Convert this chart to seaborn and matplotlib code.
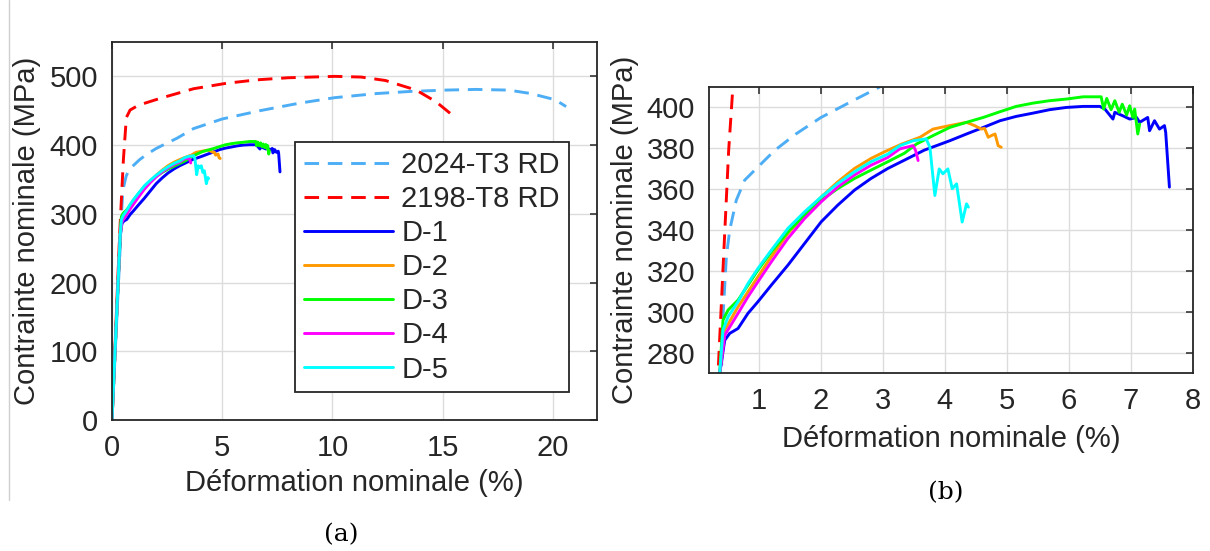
import numpy as np
import pandas as pd
import matplotlib
matplotlib.use("Agg")
import matplotlib.pyplot as plt
from matplotlib.lines import Line2D
import seaborn as sns

# ---------------- data ----------------
series_names = ["2024-T3 RD", "2198-T8 RD", "D-1", "D-2", "D-3", "D-4", "D-5"]

x_2024 = [0, 0.40, 0.43, 0.48, 0.534, 0.64, 0.775, 0.99, 1.26, 1.6, 2.0, 2.5, 2.95, 3.7, 5.0,
          6.7, 8.5, 10.1, 12.0, 13.5, 15.1, 16.5, 18.0, 19.0, 20.1, 20.6]
y_2024 = [0, 270, 300, 327, 340, 354.6, 364.4, 370.9, 379, 387, 395, 403, 410, 424, 438,
          450, 461, 469, 475, 478, 480, 481, 480, 475, 466, 456]

x_2198 = [0, 0.346, 0.44, 0.517, 0.585, 0.65, 0.82, 1.2, 2.18, 3.7, 5.2, 6.6, 8.0, 10.1,
          11.3, 12.4, 13.8, 14.7, 15.5]
y_2198 = [0, 270, 330, 379, 410, 440, 451, 458, 468, 482, 490, 495, 498, 500,
          499, 494, 480, 463, 442]

x_d1 = [0, 0.373, 0.453, 0.534, 0.668, 0.828, 0.989, 1.204, 1.472, 1.74, 2.008, 2.276, 2.544,
        2.81, 3.08, 3.35, 3.67, 4.08, 4.35, 4.62, 4.89, 5.15, 5.42, 5.69, 5.96, 6.23, 6.5,
        6.58, 6.71, 6.74, 6.87, 6.98, 7.09, 7.14, 7.27, 7.3, 7.38, 7.46, 7.54, 7.56, 7.62]
y_d1 = [0, 269.8, 286, 289.4, 291.8, 299.2, 304.9, 313, 322.8, 333.4, 344, 352.2, 359.5,
        365.2, 370.1, 374.2, 379.1, 383.7, 387, 390.2, 393.5, 395.6, 397.2, 398.9, 400, 400.5, 400.5,
        399.2, 394.3, 397.6, 395.9, 394.3, 395.1, 392.7, 395.1, 388.6, 393.5, 389.4, 391.1, 387.8, 361]

x_d2 = [0, 0.373, 0.453, 0.668, 0.989, 1.204, 1.472, 1.74, 2.008, 2.276, 2.544, 2.81, 3.03,
        3.3, 3.6, 3.81, 4.08, 4.35, 4.48, 4.59, 4.64, 4.7, 4.75, 4.81, 4.86, 4.91]
y_d2 = [0, 270, 291, 302.4, 317.1, 326.9, 338.3, 347.3, 356.2, 363.6, 370.1, 375, 378.3,
        382, 385.4, 389.4, 391.1, 392.7, 391.1, 389.4, 389.8, 385.4, 386.2, 387, 381.3, 380.5]

x_d3 = [0, 0.373, 0.426, 0.507, 0.668, 0.828, 0.989, 1.204, 1.472, 1.74, 2.008, 2.276, 2.544,
        2.81, 3.08, 3.35, 3.544, 3.81, 4.08, 4.35, 4.62, 4.89, 5.15, 5.42, 5.69, 5.96, 6.23,
        6.52, 6.56, 6.61, 6.68, 6.74, 6.81, 6.86, 6.93, 6.98, 7.03, 7.06, 7.11, 7.14]
y_d3 = [0, 270, 295.9, 300.8, 305.7, 313, 320.4, 329.3, 339.1, 347.3, 354.6, 360.3, 365.2,
        369.3, 373.4, 377.6, 382.1, 386.2, 390.2, 392.7, 395.1, 397.9, 400.5, 402.1, 403.3, 404.1, 405.2,
        405.2, 399.2, 404.4, 398.9, 403.3, 397.6, 401.6, 396.3, 400.8, 395.1, 399.2, 387, 391.9]

x_d4 = [0, 0.373, 0.453, 0.668, 0.828, 0.989, 1.204, 1.472, 1.74, 2.008, 2.276, 2.544, 2.81,
        3.08, 3.275, 3.49, 3.53, 3.57]
y_d4 = [0, 270, 288.5, 299.2, 307.3, 314.7, 324.4, 335.9, 345.6, 353.8, 361.1, 366.9, 371.7,
        375.5, 379.7, 381.3, 378.9, 374]

x_d5 = [0, 0.373, 0.426, 0.507, 0.668, 0.828, 0.989, 1.204, 1.472, 1.74, 2.008, 2.276, 2.544,
        2.81, 3.08, 3.275, 3.49, 3.7, 3.76, 3.84, 3.91, 3.97, 4.05, 4.12, 4.19, 4.28, 4.35, 4.38]
y_d5 = [0, 270, 291, 297.5, 304.9, 313.8, 321.2, 330.1, 340.8, 348.9, 356.2, 362.8, 368.5,
        373.4, 377.1, 381.3, 383.7, 384.6, 380.5, 356.9, 369.9, 367.5, 369.9, 360.2, 362.6, 343.9, 352.8, 351.2]

xticks_a = [0, 5, 10, 15, 20]
yticks_a = [0, 100, 200, 300, 400, 500]
xticks_b = [1, 2, 3, 4, 5, 6, 7, 8]
yticks_b = [280, 300, 320, 340, 360, 380, 400]

xlabel_txt = "Déformation nominale (%)"
ylabel_txt = "Contrainte nominale (MPa)"

# ---------------- styling ----------------
colors = {"2024-T3 RD": "#4EAEF5", "2198-T8 RD": "#FF0000", "D-1": "#0000FF",
          "D-2": "#FF9900", "D-3": "#00FF00", "D-4": "#FF00FF", "D-5": "#00FFFF"}
dash_map = {"2024-T3 RD": (5, 3), "2198-T8 RD": (5, 3), "D-1": "", "D-2": "",
            "D-3": "", "D-4": "", "D-5": ""}

xs = [x_2024, x_2198, x_d1, x_d2, x_d3, x_d4, x_d5]
ys = [y_2024, y_2198, y_d1, y_d2, y_d3, y_d4, y_d5]
frames = []
for name, xv, yv in zip(series_names, xs, ys):
    frames.append(pd.DataFrame({"x": xv, "y": yv, "series": name}))
df = pd.concat(frames, ignore_index=True)

sns.set_theme(style="whitegrid")
plt.rcParams["font.family"] = ["Liberation Sans", "DejaVu Sans"]
TXT = "#262626"
plt.rcParams.update({"text.color": TXT, "axes.labelcolor": TXT,
                     "xtick.color": TXT, "ytick.color": TXT})

W, H = 1210, 551
fig = plt.figure(figsize=(W / 100, H / 100), dpi=100)
fig.patch.set_facecolor("white")

ax1 = fig.add_axes([112 / W, 1 - 420 / H, (597 - 112) / W, (420 - 42) / H])
ax2 = fig.add_axes([709 / W, 1 - 373 / H, (1193 - 709) / W, (373 - 87) / H])

FS = 21
LW = 2.1
for ax, leg in ((ax1, True), (ax2, False)):
    sns.lineplot(data=df, x="x", y="y", hue="series", style="series",
                 hue_order=series_names, style_order=series_names,
                 palette=colors, dashes=dash_map, sort=False, estimator=None,
                 units="series", linewidth=LW, ax=ax, legend=leg)
    ax.set_facecolor("white")
    ax.grid(True, color="#DCDCDC", linewidth=1.0)
    for s in ax.spines.values():
        s.set_visible(True)
        s.set_color(TXT)
        s.set_linewidth(1.3)
    ax.tick_params(direction="in", length=5, width=1.1, top=True, right=True,
                   labelsize=FS, pad=10, colors=TXT)
    ax.set_xlabel(xlabel_txt, fontsize=FS, va="center")
    ax.set_ylabel(ylabel_txt, fontsize=FS, va="center")

ax1.set_xlim(0, 22)
ax1.set_ylim(0, 550)
ax1.set_xticks(xticks_a)
ax1.set_yticks(yticks_a)
ax1.xaxis.set_label_coords(0.5, -(483 - 420) / 378)
ax1.yaxis.set_label_coords((27 - 112) / 485, 0.5)

ax2.set_xlim(0.2, 8)
ax2.set_ylim(270, 410)
ax2.set_xticks(xticks_b)
ax2.set_yticks(yticks_b)
ax2.xaxis.set_label_coords(0.5, -(439 - 373) / 286)
ax2.yaxis.set_label_coords((625 - 709) / 484, 0.5)

# legend (rebuilt in MATLAB style)
old = ax1.get_legend()
handles = []
for name in series_names:
    handles.append(Line2D([0], [0], color=colors[name], linewidth=LW,
                          linestyle=(0, dash_map[name]) if dash_map[name] else "-"))
old.remove()
lg = ax1.legend(handles, series_names, loc="upper left",
                bbox_to_anchor=(295 / W, 1 - 142 / H), bbox_transform=fig.transFigure,
                fontsize=FS, frameon=True, fancybox=False, framealpha=1,
                edgecolor=TXT, handlelength=3.05, handletextpad=0.3,
                labelspacing=0.21, borderpad=0.3, borderaxespad=0)
lg.get_frame().set_linewidth(1.3)

fig.text(341 / W, 1 - 535 / H, "(a)", ha="center", va="center",
         family=["DejaVu Serif"], fontsize=18, color="black")
fig.text(946 / W, 1 - 493 / H, "(b)", ha="center", va="center",
         family=["DejaVu Serif"], fontsize=18, color="black")

fig.add_artist(Line2D([8.5 / W, 8.5 / W], [1 - 500 / H, 1.0], color="#CFCFCF",
                      linewidth=1.0, transform=fig.transFigure))

fig.savefig("out.png", dpi=100, facecolor="white")
